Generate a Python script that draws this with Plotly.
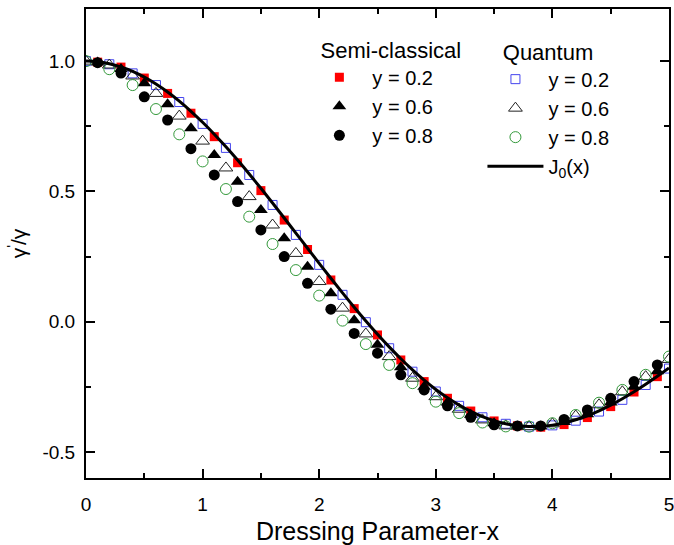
import plotly.graph_objects as go

# ---------------- data ----------------
x_semi = [0.1, 0.3, 0.5, 0.7, 0.9, 1.1, 1.3, 1.5, 1.7, 1.9, 2.1, 2.3, 2.5,
          2.7, 2.9, 3.1, 3.3, 3.5, 3.7, 3.9, 4.1, 4.3, 4.5, 4.7, 4.9]
semi_y02 = [0.996, 0.977, 0.935, 0.876, 0.800, 0.710, 0.610, 0.503, 0.390, 0.277,
            0.160, 0.050, -0.051, -0.147, -0.230, -0.294, -0.343, -0.381, -0.400,
            -0.405, -0.395, -0.368, -0.326, -0.270, -0.211]
semi_y06 = [0.995, 0.970, 0.915, 0.834, 0.742, 0.640, 0.537, 0.429, 0.320, 0.211,
            0.109, 0.005, -0.089, -0.175, -0.250, -0.310, -0.357, -0.390, -0.402,
            -0.402, -0.385, -0.355, -0.310, -0.250, -0.190]
semi_y08 = [0.994, 0.954, 0.863, 0.774, 0.664, 0.563, 0.461, 0.352, 0.250, 0.147,
            0.048, -0.045, -0.121, -0.204, -0.262, -0.323, -0.367, -0.396, -0.400,
            -0.400, -0.375, -0.339, -0.294, -0.230, -0.166]

x_quant = [0.0, 0.2, 0.4, 0.6, 0.8, 1.0, 1.2, 1.4, 1.6, 1.8, 2.0, 2.2, 2.4,
           2.6, 2.8, 3.0, 3.2, 3.4, 3.6, 3.8, 4.0, 4.2, 4.4, 4.6, 4.8, 5.0]
quant_y02 = [1.000, 0.988, 0.953, 0.908, 0.843, 0.759, 0.667, 0.563, 0.448, 0.333,
             0.218, 0.103, -0.002, -0.102, -0.192, -0.268, -0.323, -0.367, -0.392,
             -0.403, -0.398, -0.380, -0.345, -0.300, -0.243, -0.180]
quant_y06 = [1.000, 0.985, 0.943, 0.876, 0.789, 0.693, 0.590, 0.480, 0.371, 0.262,
             0.154, 0.052, -0.047, -0.134, -0.217, -0.288, -0.336, -0.377, -0.400,
             -0.403, -0.392, -0.362, -0.319, -0.269, -0.211, -0.145]
quant_y08 = [1.000, 0.969, 0.908, 0.816, 0.719, 0.615, 0.509, 0.403, 0.298, 0.198,
             0.100, 0.004, -0.086, -0.166, -0.236, -0.307, -0.351, -0.387, -0.402,
             -0.403, -0.390, -0.358, -0.311, -0.262, -0.204, -0.134]

x_line = [0.0, 0.1, 0.2, 0.3, 0.4, 0.5, 0.6, 0.7, 0.8, 0.9, 1.0, 1.1, 1.2, 1.3,
          1.4, 1.5, 1.6, 1.7, 1.8, 1.9, 2.0, 2.1, 2.2, 2.3, 2.4, 2.5, 2.6, 2.7,
          2.8, 2.9, 3.0, 3.1, 3.2, 3.3, 3.4, 3.5, 3.6, 3.7, 3.8, 3.9, 4.0, 4.1,
          4.2, 4.3, 4.4, 4.5, 4.6, 4.7, 4.8, 4.9, 5.0]
j0_vals = [1.0000, 0.9975, 0.9900, 0.9776, 0.9604, 0.9385, 0.9120, 0.8812, 0.8463,
           0.8075, 0.7652, 0.7196, 0.6711, 0.6201, 0.5669, 0.5118, 0.4554, 0.3980,
           0.3400, 0.2818, 0.2239, 0.1666, 0.1104, 0.0555, 0.0025, -0.0484, -0.0968,
           -0.1424, -0.1850, -0.2243, -0.2601, -0.2921, -0.3202, -0.3443, -0.3643,
           -0.3801, -0.3918, -0.3992, -0.4026, -0.4018, -0.3971, -0.3887, -0.3766,
           -0.3610, -0.3423, -0.3205, -0.2961, -0.2693, -0.2404, -0.2097, -0.1776]

x_tickvals = [0, 1, 2, 3, 4, 5]
x_ticktext = ["0", "1", "2", "3", "4", "5"]
y_tickvals = [-0.5, 0.0, 0.5, 1.0]
y_ticktext = ["-0.5", "0.0", "0.5", "1.0"]

FONT = "Liberation Sans, Arial, sans-serif"

fig = go.Figure()

# semi-classical
fig.add_trace(go.Scatter(x=x_semi, y=semi_y02, mode="markers", name="y = 0.2",
                         legend="legend",
                         marker=dict(symbol="square", size=9, color="#ff0000",
                                     line=dict(width=0))))
fig.add_trace(go.Scatter(x=x_semi, y=semi_y06, mode="markers", name="y = 0.6",
                         legend="legend",
                         marker=dict(symbol="triangle-up", size=12, color="#000000",
                                     line=dict(width=0))))
fig.add_trace(go.Scatter(x=x_semi, y=semi_y08, mode="markers", name="y = 0.8",
                         legend="legend",
                         marker=dict(symbol="circle", size=11, color="#000000",
                                     line=dict(width=0))))
# quantum
fig.add_trace(go.Scatter(x=x_quant, y=quant_y02, mode="markers", name="y = 0.2",
                         legend="legend2",
                         marker=dict(symbol="square-open", size=9, color="#4444ee",
                                     line=dict(width=1, color="#4444ee"))))
fig.add_trace(go.Scatter(x=x_quant, y=quant_y06, mode="markers", name="y = 0.6",
                         legend="legend2",
                         marker=dict(symbol="triangle-up-open", size=12, color="#222222",
                                     line=dict(width=1, color="#222222"))))
fig.add_trace(go.Scatter(x=x_quant, y=quant_y08, mode="markers", name="y = 0.8",
                         legend="legend2",
                         marker=dict(symbol="circle-open", size=11, color="#33993a",
                                     line=dict(width=1, color="#33993a"))))
# J0 line
fig.add_trace(go.Scatter(x=x_line, y=j0_vals, mode="lines", name="J<sub>0</sub>(x)",
                         legend="legend2",
                         line=dict(color="#000000", width=3, shape="spline")))

axis_common = dict(
    showline=True, linecolor="#000000", linewidth=2, mirror="allticks",
    ticks="inside", ticklen=9, tickwidth=2, tickcolor="#000000",
    showgrid=False, zeroline=False, automargin=False,
    ticklabeloverflow="allow",
    tickfont=dict(family=FONT, size=19, color="#000000"),
)

fig.update_xaxes(
    range=[0, 5], tickmode="array", tickvals=x_tickvals, ticktext=x_ticktext,
    minor=dict(dtick=0.5, ticks="inside", ticklen=5, tickwidth=2, tickcolor="#000000",
               showgrid=False),
    title=dict(text="Dressing Parameter-x", font=dict(family=FONT, size=25, color="#000000"),
               standoff=22),
    ticklabelstandoff=8,
    **axis_common,
)
fig.update_yaxes(
    range=[-0.6, 1.2], tickmode="array", tickvals=y_tickvals, ticktext=y_ticktext,
    minor=dict(tick0=-0.5, dtick=0.25, ticks="inside", ticklen=5, tickwidth=2,
               tickcolor="#000000", showgrid=False),
    title=dict(text="γ<sup>'</sup>/γ", font=dict(family=FONT, size=21, color="#000000"),
               standoff=10),
    ticklabelstandoff=5,
    **axis_common,
)

legend_common = dict(
    bgcolor="rgba(0,0,0,0)", borderwidth=0,
    font=dict(family=FONT, size=20, color="#000000"),
    itemwidth=56, tracegroupgap=0,
    xanchor="left", yanchor="top",
)

fig.update_layout(
    width=674, height=545,
    margin=dict(l=86, r=5, t=9, b=67, autoexpand=False),
    paper_bgcolor="#ffffff", plot_bgcolor="#ffffff",
    showlegend=True,
    legend=dict(x=0.378, y=0.957,
                title=dict(text="\u00a0\u00a0Semi-classical", side="top",
                           font=dict(family=FONT, size=22, color="#000000")),
                **legend_common),
    legend2=dict(x=0.680, y=0.953,
                 title=dict(text="\u00a0\u00a0\u00a0Quantum", side="top",
                            font=dict(family=FONT, size=22, color="#000000")),
                 **legend_common),
)

fig.write_html("out.html")
